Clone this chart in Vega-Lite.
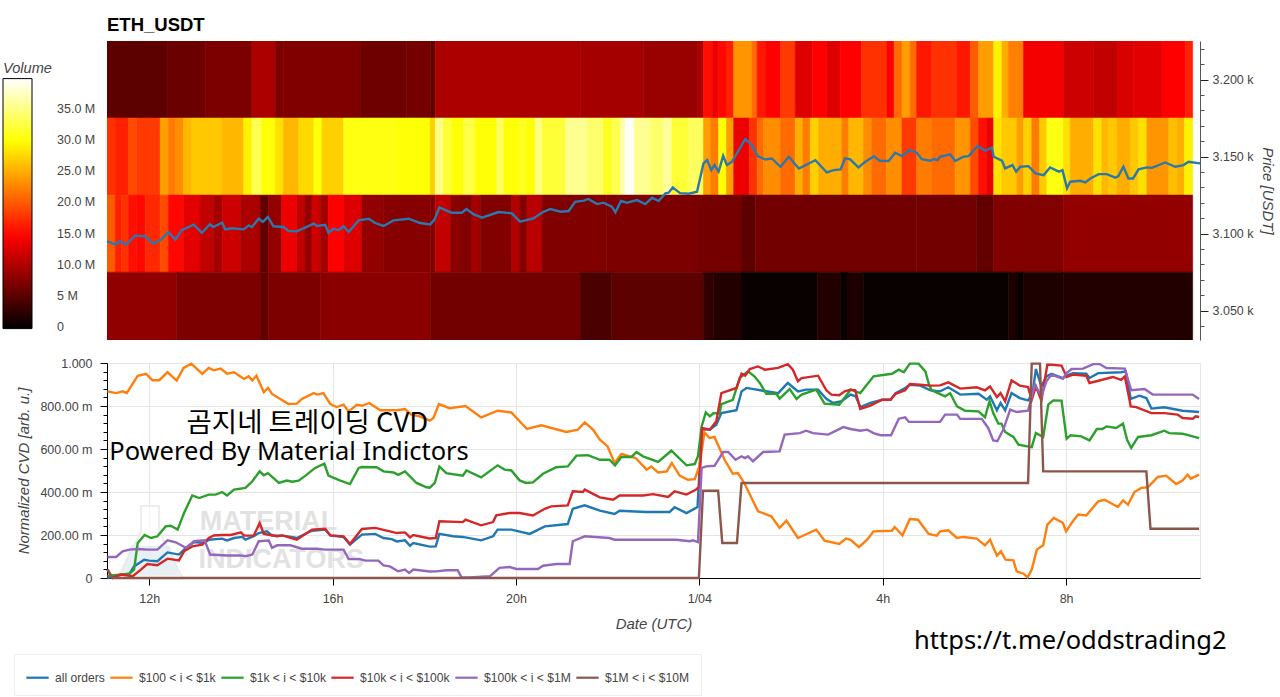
{
"$schema":"https://vega.github.io/schema/vega-lite/v6.json",
"padding":{"left":3,"top":15,"right":4,"bottom":0},
"background":"white",
"spacing":23,
"bounds":"flush",
"config":{"font":"Liberation Sans","view":{"stroke":null},"axis":{"labelFontSize":12.5,"labelColor":"#444444","titleColor":"#444444","titleFontSize":15,"titleFontStyle":"italic","titleFontWeight":"normal","tickColor":"#222222","domainColor":"#222222"}},
"datasets":{
"heat":[
{"t0":11.08,"t1":12.39,"p0":3175,"p1":3225,"vol":5.2},{"t0":12.39,"t1":13.22,"p0":3175,"p1":3225,"vol":6},{"t0":13.22,"t1":14.24,"p0":3175,"p1":3225,"vol":7},{"t0":14.24,"t1":14.75,"p0":3175,"p1":3225,"vol":9.7},{"t0":14.75,"t1":14.93,"p0":3175,"p1":3225,"vol":7},{"t0":14.93,"t1":16.6,"p0":3175,"p1":3225,"vol":7.2},{"t0":16.6,"t1":17.62,"p0":3175,"p1":3225,"vol":6.2},{"t0":17.62,"t1":18.13,"p0":3175,"p1":3225,"vol":6.6},{"t0":18.13,"t1":18.24,"p0":3175,"p1":3225,"vol":5.5},{"t0":18.24,"t1":21.4,"p0":3175,"p1":3225,"vol":9.8},{"t0":21.4,"t1":22.78,"p0":3175,"p1":3225,"vol":9.3},{"t0":22.78,"t1":23.95,"p0":3175,"p1":3225,"vol":8.7},{"t0":23.95,"t1":24.09,"p0":3175,"p1":3225,"vol":9.6},{"t0":24.09,"t1":24.28,"p0":3175,"p1":3225,"vol":15.5},{"t0":24.28,"t1":24.42,"p0":3175,"p1":3225,"vol":13.5},{"t0":24.42,"t1":24.6,"p0":3175,"p1":3225,"vol":15},{"t0":24.6,"t1":24.75,"p0":3175,"p1":3225,"vol":16.5},{"t0":24.75,"t1":25.15,"p0":3175,"p1":3225,"vol":23.5},{"t0":25.15,"t1":25.26,"p0":3175,"p1":3225,"vol":21},{"t0":25.26,"t1":25.44,"p0":3175,"p1":3225,"vol":16},{"t0":25.44,"t1":25.77,"p0":3175,"p1":3225,"vol":14.6},{"t0":25.77,"t1":26.09,"p0":3175,"p1":3225,"vol":18},{"t0":26.09,"t1":26.46,"p0":3175,"p1":3225,"vol":12.7},{"t0":26.46,"t1":26.78,"p0":3175,"p1":3225,"vol":14.6},{"t0":26.78,"t1":27.08,"p0":3175,"p1":3225,"vol":12.7},{"t0":27.08,"t1":27.54,"p0":3175,"p1":3225,"vol":14.6},{"t0":27.54,"t1":28.09,"p0":3175,"p1":3225,"vol":17.5},{"t0":28.09,"t1":28.25,"p0":3175,"p1":3225,"vol":14.6},{"t0":28.25,"t1":28.42,"p0":3175,"p1":3225,"vol":21},{"t0":28.42,"t1":28.6,"p0":3175,"p1":3225,"vol":24},{"t0":28.6,"t1":28.74,"p0":3175,"p1":3225,"vol":21},{"t0":28.74,"t1":29.07,"p0":3175,"p1":3225,"vol":16},{"t0":29.07,"t1":29.62,"p0":3175,"p1":3225,"vol":17.5},{"t0":29.62,"t1":29.91,"p0":3175,"p1":3225,"vol":16},{"t0":29.91,"t1":30.09,"p0":3175,"p1":3225,"vol":20},{"t0":30.09,"t1":30.42,"p0":3175,"p1":3225,"vol":24},{"t0":30.42,"t1":30.6,"p0":3175,"p1":3225,"vol":29},{"t0":30.6,"t1":30.74,"p0":3175,"p1":3225,"vol":25},{"t0":30.74,"t1":31.07,"p0":3175,"p1":3225,"vol":22.2},{"t0":31.07,"t1":31.94,"p0":3175,"p1":3225,"vol":14},{"t0":31.94,"t1":32.6,"p0":3175,"p1":3225,"vol":11.7},{"t0":32.6,"t1":33.11,"p0":3175,"p1":3225,"vol":11},{"t0":33.11,"t1":33.47,"p0":3175,"p1":3225,"vol":12.4},{"t0":33.47,"t1":34.09,"p0":3175,"p1":3225,"vol":13},{"t0":34.09,"t1":34.6,"p0":3175,"p1":3225,"vol":14.6},{"t0":34.6,"t1":34.76,"p0":3175,"p1":3225,"vol":16.5},
{"t0":11.08,"t1":11.26,"p0":3125,"p1":3175,"vol":17.5},{"t0":11.26,"t1":11.55,"p0":3125,"p1":3175,"vol":16.5},{"t0":11.55,"t1":11.73,"p0":3125,"p1":3175,"vol":19},{"t0":11.73,"t1":12.24,"p0":3125,"p1":3175,"vol":18},{"t0":12.24,"t1":12.42,"p0":3125,"p1":3175,"vol":24},{"t0":12.42,"t1":12.57,"p0":3125,"p1":3175,"vol":22},{"t0":12.57,"t1":12.75,"p0":3125,"p1":3175,"vol":23},{"t0":12.75,"t1":12.93,"p0":3125,"p1":3175,"vol":25.5},{"t0":12.93,"t1":13.59,"p0":3125,"p1":3175,"vol":26.5},{"t0":13.59,"t1":14.06,"p0":3125,"p1":3175,"vol":25.5},{"t0":14.06,"t1":14.24,"p0":3125,"p1":3175,"vol":29},{"t0":14.24,"t1":14.46,"p0":3125,"p1":3175,"vol":33},{"t0":14.46,"t1":14.75,"p0":3125,"p1":3175,"vol":30},{"t0":14.75,"t1":14.93,"p0":3125,"p1":3175,"vol":28},{"t0":14.93,"t1":15.26,"p0":3125,"p1":3175,"vol":25.5},{"t0":15.26,"t1":15.59,"p0":3125,"p1":3175,"vol":27.5},{"t0":15.59,"t1":15.77,"p0":3125,"p1":3175,"vol":30},{"t0":15.77,"t1":16.24,"p0":3125,"p1":3175,"vol":27},{"t0":16.24,"t1":17.4,"p0":3125,"p1":3175,"vol":30.5},{"t0":17.4,"t1":18.13,"p0":3125,"p1":3175,"vol":30},{"t0":18.13,"t1":18.24,"p0":3125,"p1":3175,"vol":27},{"t0":18.24,"t1":18.42,"p0":3125,"p1":3175,"vol":35},{"t0":18.42,"t1":18.6,"p0":3125,"p1":3175,"vol":32},{"t0":18.6,"t1":18.86,"p0":3125,"p1":3175,"vol":30},{"t0":18.86,"t1":19.11,"p0":3125,"p1":3175,"vol":32.5},{"t0":19.11,"t1":19.58,"p0":3125,"p1":3175,"vol":30},{"t0":19.58,"t1":19.74,"p0":3125,"p1":3175,"vol":33.5},{"t0":19.74,"t1":20.06,"p0":3125,"p1":3175,"vol":30},{"t0":20.06,"t1":20.24,"p0":3125,"p1":3175,"vol":31},{"t0":20.24,"t1":20.42,"p0":3125,"p1":3175,"vol":30},{"t0":20.42,"t1":20.57,"p0":3125,"p1":3175,"vol":35},{"t0":20.57,"t1":21.08,"p0":3125,"p1":3175,"vol":32},{"t0":21.08,"t1":21.55,"p0":3125,"p1":3175,"vol":35.5},{"t0":21.55,"t1":21.91,"p0":3125,"p1":3175,"vol":34},{"t0":21.91,"t1":22.09,"p0":3125,"p1":3175,"vol":31},{"t0":22.09,"t1":22.28,"p0":3125,"p1":3175,"vol":33},{"t0":22.28,"t1":22.38,"p0":3125,"p1":3175,"vol":36.5},{"t0":22.38,"t1":22.58,"p0":3125,"p1":3175,"vol":39.5},{"t0":22.58,"t1":22.93,"p0":3125,"p1":3175,"vol":35.5},{"t0":22.93,"t1":23.22,"p0":3125,"p1":3175,"vol":34},{"t0":23.22,"t1":23.4,"p0":3125,"p1":3175,"vol":36},{"t0":23.4,"t1":23.77,"p0":3125,"p1":3175,"vol":32},{"t0":23.77,"t1":24.09,"p0":3125,"p1":3175,"vol":33.5},{"t0":24.09,"t1":24.25,"p0":3125,"p1":3175,"vol":24},{"t0":24.25,"t1":24.42,"p0":3125,"p1":3175,"vol":22},{"t0":24.42,"t1":24.59,"p0":3125,"p1":3175,"vol":30},{"t0":24.59,"t1":24.75,"p0":3125,"p1":3175,"vol":24},{"t0":24.75,"t1":25.09,"p0":3125,"p1":3175,"vol":13.5},{"t0":25.09,"t1":25.26,"p0":3125,"p1":3175,"vol":17.5},{"t0":25.26,"t1":25.4,"p0":3125,"p1":3175,"vol":21},{"t0":25.4,"t1":25.77,"p0":3125,"p1":3175,"vol":23},{"t0":25.77,"t1":26.09,"p0":3125,"p1":3175,"vol":21},{"t0":26.09,"t1":26.26,"p0":3125,"p1":3175,"vol":25},{"t0":26.26,"t1":26.42,"p0":3125,"p1":3175,"vol":22},{"t0":26.42,"t1":26.6,"p0":3125,"p1":3175,"vol":27},{"t0":26.6,"t1":27.11,"p0":3125,"p1":3175,"vol":25},{"t0":27.11,"t1":27.26,"p0":3125,"p1":3175,"vol":22},{"t0":27.26,"t1":27.58,"p0":3125,"p1":3175,"vol":25.5},{"t0":27.58,"t1":27.76,"p0":3125,"p1":3175,"vol":23},{"t0":27.76,"t1":28.08,"p0":3125,"p1":3175,"vol":21},{"t0":28.08,"t1":28.42,"p0":3125,"p1":3175,"vol":23},{"t0":28.42,"t1":28.74,"p0":3125,"p1":3175,"vol":18},{"t0":28.74,"t1":29.07,"p0":3125,"p1":3175,"vol":22},{"t0":29.07,"t1":29.58,"p0":3125,"p1":3175,"vol":21},{"t0":29.58,"t1":29.91,"p0":3125,"p1":3175,"vol":23.5},{"t0":29.91,"t1":30.09,"p0":3125,"p1":3175,"vol":19},{"t0":30.09,"t1":30.26,"p0":3125,"p1":3175,"vol":15.5},{"t0":30.26,"t1":30.42,"p0":3125,"p1":3175,"vol":13.5},{"t0":30.42,"t1":30.6,"p0":3125,"p1":3175,"vol":28},{"t0":30.6,"t1":30.93,"p0":3125,"p1":3175,"vol":26.5},{"t0":30.93,"t1":31.07,"p0":3125,"p1":3175,"vol":24},{"t0":31.07,"t1":31.25,"p0":3125,"p1":3175,"vol":27},{"t0":31.25,"t1":31.42,"p0":3125,"p1":3175,"vol":22},{"t0":31.42,"t1":31.58,"p0":3125,"p1":3175,"vol":26.5},{"t0":31.58,"t1":31.94,"p0":3125,"p1":3175,"vol":30.5},{"t0":31.94,"t1":32.09,"p0":3125,"p1":3175,"vol":28},{"t0":32.09,"t1":32.6,"p0":3125,"p1":3175,"vol":25},{"t0":32.6,"t1":32.78,"p0":3125,"p1":3175,"vol":28},{"t0":32.78,"t1":32.93,"p0":3125,"p1":3175,"vol":25.5},{"t0":32.93,"t1":33.11,"p0":3125,"p1":3175,"vol":26.5},{"t0":33.11,"t1":33.4,"p0":3125,"p1":3175,"vol":25},{"t0":33.4,"t1":33.58,"p0":3125,"p1":3175,"vol":26.5},{"t0":33.58,"t1":33.76,"p0":3125,"p1":3175,"vol":28},{"t0":33.76,"t1":34.24,"p0":3125,"p1":3175,"vol":23.5},{"t0":34.24,"t1":34.42,"p0":3125,"p1":3175,"vol":26},{"t0":34.42,"t1":34.58,"p0":3125,"p1":3175,"vol":25},{"t0":34.58,"t1":34.76,"p0":3125,"p1":3175,"vol":29},
{"t0":11.08,"t1":11.26,"p0":3075,"p1":3125,"vol":20},{"t0":11.26,"t1":11.4,"p0":3075,"p1":3125,"vol":16.5},{"t0":11.4,"t1":11.55,"p0":3075,"p1":3125,"vol":17.5},{"t0":11.55,"t1":11.73,"p0":3075,"p1":3125,"vol":15.5},{"t0":11.73,"t1":11.91,"p0":3075,"p1":3125,"vol":15},{"t0":11.91,"t1":12.24,"p0":3075,"p1":3125,"vol":17},{"t0":12.24,"t1":12.42,"p0":3075,"p1":3125,"vol":19},{"t0":12.42,"t1":12.75,"p0":3075,"p1":3125,"vol":15},{"t0":12.75,"t1":13.11,"p0":3075,"p1":3125,"vol":13},{"t0":13.11,"t1":13.4,"p0":3075,"p1":3125,"vol":11},{"t0":13.4,"t1":13.59,"p0":3075,"p1":3125,"vol":9.3},{"t0":13.59,"t1":13.99,"p0":3075,"p1":3125,"vol":11.7},{"t0":13.99,"t1":14.42,"p0":3075,"p1":3125,"vol":9.7},{"t0":14.42,"t1":14.6,"p0":3075,"p1":3125,"vol":5.5},{"t0":14.6,"t1":14.89,"p0":3075,"p1":3125,"vol":8.3},{"t0":14.89,"t1":15.22,"p0":3075,"p1":3125,"vol":13.5},{"t0":15.22,"t1":15.4,"p0":3075,"p1":3125,"vol":11},{"t0":15.4,"t1":15.55,"p0":3075,"p1":3125,"vol":8.3},{"t0":15.55,"t1":15.73,"p0":3075,"p1":3125,"vol":11.7},{"t0":15.73,"t1":15.91,"p0":3075,"p1":3125,"vol":9.3},{"t0":15.91,"t1":16.24,"p0":3075,"p1":3125,"vol":14.6},{"t0":16.24,"t1":16.64,"p0":3075,"p1":3125,"vol":12.7},{"t0":16.64,"t1":17.11,"p0":3075,"p1":3125,"vol":8.3},{"t0":17.11,"t1":18.13,"p0":3075,"p1":3125,"vol":7.6},{"t0":18.13,"t1":18.24,"p0":3075,"p1":3125,"vol":7.3},{"t0":18.24,"t1":18.57,"p0":3075,"p1":3125,"vol":11},{"t0":18.57,"t1":18.78,"p0":3075,"p1":3125,"vol":8},{"t0":18.78,"t1":19.04,"p0":3075,"p1":3125,"vol":7.3},{"t0":19.04,"t1":19.22,"p0":3075,"p1":3125,"vol":9.3},{"t0":19.22,"t1":19.91,"p0":3075,"p1":3125,"vol":7.3},{"t0":19.91,"t1":20.09,"p0":3075,"p1":3125,"vol":10},{"t0":20.09,"t1":20.24,"p0":3075,"p1":3125,"vol":7.3},{"t0":20.24,"t1":20.57,"p0":3075,"p1":3125,"vol":10.5},{"t0":20.57,"t1":21.98,"p0":3075,"p1":3125,"vol":7.2},{"t0":21.98,"t1":23.95,"p0":3075,"p1":3125,"vol":7},{"t0":23.95,"t1":24.93,"p0":3075,"p1":3125,"vol":6.6},{"t0":24.93,"t1":25.22,"p0":3075,"p1":3125,"vol":5.2},{"t0":25.22,"t1":28.74,"p0":3075,"p1":3125,"vol":6.5},{"t0":28.74,"t1":30.05,"p0":3075,"p1":3125,"vol":6.4},{"t0":30.05,"t1":30.42,"p0":3075,"p1":3125,"vol":5.5},{"t0":30.42,"t1":31.94,"p0":3075,"p1":3125,"vol":7.3},{"t0":31.94,"t1":34.76,"p0":3075,"p1":3125,"vol":8.3},
{"t0":11.08,"t1":12.6,"p0":3025,"p1":3075,"vol":8.2},{"t0":12.6,"t1":14.42,"p0":3025,"p1":3075,"vol":7},{"t0":14.42,"t1":14.6,"p0":3025,"p1":3075,"vol":5.5},{"t0":14.6,"t1":15.73,"p0":3025,"p1":3075,"vol":7},{"t0":15.73,"t1":18.13,"p0":3025,"p1":3075,"vol":7.8},{"t0":18.13,"t1":21.4,"p0":3025,"p1":3075,"vol":6.4},{"t0":21.4,"t1":22.09,"p0":3025,"p1":3075,"vol":4.1},{"t0":22.09,"t1":24.09,"p0":3025,"p1":3075,"vol":5.2},{"t0":24.09,"t1":24.31,"p0":3025,"p1":3075,"vol":2.7},{"t0":24.31,"t1":24.93,"p0":3025,"p1":3075,"vol":1.8},{"t0":24.93,"t1":26.57,"p0":3025,"p1":3075,"vol":0.3},{"t0":26.57,"t1":27.08,"p0":3025,"p1":3075,"vol":1.8},{"t0":27.08,"t1":27.22,"p0":3025,"p1":3075,"vol":0.3},{"t0":27.22,"t1":27.58,"p0":3025,"p1":3075,"vol":1.4},{"t0":27.58,"t1":30.74,"p0":3025,"p1":3075,"vol":0.3},{"t0":30.74,"t1":30.93,"p0":3025,"p1":3075,"vol":1.4},{"t0":30.93,"t1":31.07,"p0":3025,"p1":3075,"vol":0.3},{"t0":31.07,"t1":31.94,"p0":3025,"p1":3075,"vol":1.5},{"t0":31.94,"t1":34.76,"p0":3025,"p1":3075,"vol":1.8}
],
"price":[
{"hour":11.08,"price":3095.2},{"hour":11.26,"price":3092.9},{"hour":11.35,"price":3095.2},{"hour":11.5,"price":3092.9},{"hour":11.69,"price":3098.7},{"hour":11.91,"price":3098.3},{"hour":12.09,"price":3093.5},{"hour":12.24,"price":3095.7},{"hour":12.42,"price":3101},{"hour":12.57,"price":3096.1},{"hour":12.71,"price":3102.2},{"hour":12.97,"price":3105.8},{"hour":13.15,"price":3100.6},{"hour":13.32,"price":3106},{"hour":13.4,"price":3104.3},{"hour":13.59,"price":3107.1},{"hour":13.66,"price":3102.8},{"hour":13.8,"price":3103.5},{"hour":14.06,"price":3102.8},{"hour":14.17,"price":3105.4},{"hour":14.24,"price":3104.3},{"hour":14.39,"price":3109.7},{"hour":14.48,"price":3107.6},{"hour":14.59,"price":3110.8},{"hour":14.71,"price":3104.8},{"hour":14.93,"price":3104.3},{"hour":15.04,"price":3101.7},{"hour":15.22,"price":3101.5},{"hour":15.59,"price":3106.5},{"hour":15.66,"price":3105},{"hour":15.84,"price":3105.8},{"hour":15.91,"price":3100.6},{"hour":16.02,"price":3103.2},{"hour":16.13,"price":3102.2},{"hour":16.24,"price":3104.8},{"hour":16.35,"price":3101.1},{"hour":16.57,"price":3108.6},{"hour":16.79,"price":3109.7},{"hour":16.93,"price":3106.9},{"hour":17.11,"price":3105},{"hour":17.33,"price":3108.6},{"hour":17.66,"price":3109.7},{"hour":17.91,"price":3106.9},{"hour":18.13,"price":3106},{"hour":18.22,"price":3108.9},{"hour":18.33,"price":3117},{"hour":18.46,"price":3115.3},{"hour":18.6,"price":3113.6},{"hour":18.82,"price":3113.6},{"hour":18.92,"price":3116},{"hour":19.08,"price":3112.5},{"hour":19.26,"price":3110.4},{"hour":19.62,"price":3114},{"hour":19.91,"price":3113.2},{"hour":20.09,"price":3107.8},{"hour":20.38,"price":3109.9},{"hour":20.6,"price":3114.2},{"hour":20.75,"price":3116},{"hour":20.97,"price":3114.2},{"hour":21.15,"price":3114.7},{"hour":21.29,"price":3120.7},{"hour":21.48,"price":3121.4},{"hour":21.58,"price":3122.5},{"hour":21.77,"price":3119.2},{"hour":21.91,"price":3120.1},{"hour":22.09,"price":3117.5},{"hour":22.17,"price":3113.8},{"hour":22.29,"price":3121.2},{"hour":22.42,"price":3120.1},{"hour":22.64,"price":3121.8},{"hour":22.82,"price":3119.2},{"hour":22.97,"price":3123.3},{"hour":23.11,"price":3121.2},{"hour":23.26,"price":3126.1},{"hour":23.33,"price":3126.6},{"hour":23.42,"price":3130},{"hour":23.58,"price":3126.3},{"hour":23.77,"price":3125.9},{"hour":23.95,"price":3127.2},{"hour":24.09,"price":3145.6},{"hour":24.17,"price":3147.7},{"hour":24.26,"price":3141.2},{"hour":24.33,"price":3144.5},{"hour":24.42,"price":3140.2},{"hour":24.52,"price":3150.5},{"hour":24.6,"price":3144.5},{"hour":24.71,"price":3146.6},{"hour":25,"price":3161.3},{"hour":25.15,"price":3157.4},{"hour":25.27,"price":3150.3},{"hour":25.44,"price":3148.1},{"hour":25.58,"price":3148.8},{"hour":25.77,"price":3143.4},{"hour":25.95,"price":3149.9},{"hour":26.17,"price":3142.3},{"hour":26.53,"price":3147.7},{"hour":26.78,"price":3139.7},{"hour":26.93,"price":3141.2},{"hour":27.08,"price":3141.7},{"hour":27.18,"price":3148.8},{"hour":27.29,"price":3148.2},{"hour":27.47,"price":3143},{"hour":27.62,"price":3146.6},{"hour":27.81,"price":3150.3},{"hour":27.93,"price":3147.3},{"hour":28.13,"price":3147.1},{"hour":28.27,"price":3152.5},{"hour":28.42,"price":3150.3},{"hour":28.58,"price":3154.2},{"hour":28.74,"price":3152.5},{"hour":28.85,"price":3148.4},{"hour":29.04,"price":3147.3},{"hour":29.11,"price":3148.4},{"hour":29.2,"price":3147.7},{"hour":29.25,"price":3149.9},{"hour":29.47,"price":3151.4},{"hour":29.58,"price":3147.1},{"hour":29.76,"price":3149.9},{"hour":29.87,"price":3150.3},{"hour":30.07,"price":3156.8},{"hour":30.24,"price":3153.8},{"hour":30.38,"price":3155.9},{"hour":30.42,"price":3149.9},{"hour":30.6,"price":3147.3},{"hour":30.67,"price":3142.3},{"hour":30.83,"price":3144.5},{"hour":30.91,"price":3140.2},{"hour":31,"price":3143.4},{"hour":31.18,"price":3143.8},{"hour":31.33,"price":3139.1},{"hour":31.51,"price":3138},{"hour":31.65,"price":3143},{"hour":31.84,"price":3140.2},{"hour":31.92,"price":3141.2},{"hour":32.02,"price":3129.4},{"hour":32.09,"price":3133.7},{"hour":32.31,"price":3134.3},{"hour":32.42,"price":3133.2},{"hour":32.53,"price":3135.8},{"hour":32.71,"price":3138.6},{"hour":32.89,"price":3138.6},{"hour":33.07,"price":3136.3},{"hour":33.14,"price":3137.4},{"hour":33.25,"price":3143.4},{"hour":33.36,"price":3135.8},{"hour":33.46,"price":3135.8},{"hour":33.58,"price":3141.7},{"hour":33.76,"price":3143},{"hour":33.87,"price":3142.7},{"hour":34.16,"price":3146.2},{"hour":34.38,"price":3143.4},{"hour":34.56,"price":3144.5},{"hour":34.67,"price":3146.6},{"hour":34.92,"price":3145.6}
],
"allOrders":[
{"hour":11.09,"v":0},{"hour":11.28,"v":0.011},{"hour":11.57,"v":0.02},{"hour":11.67,"v":0.054},{"hour":11.89,"v":0.085},{"hour":12,"v":0.081},{"hour":12.18,"v":0.078},{"hour":12.4,"v":0.119},{"hour":12.65,"v":0.109},{"hour":12.8,"v":0.14},{"hour":12.98,"v":0.167},{"hour":13.2,"v":0.163},{"hour":13.3,"v":0.178},{"hour":13.59,"v":0.183},{"hour":13.7,"v":0.175},{"hour":13.85,"v":0.186},{"hour":14.03,"v":0.191},{"hour":14.1,"v":0.178},{"hour":14.28,"v":0.194},{"hour":14.39,"v":0.209},{"hour":14.57,"v":0.217},{"hour":14.68,"v":0.197},{"hour":14.93,"v":0.197},{"hour":15.22,"v":0.186},{"hour":15.55,"v":0.22},{"hour":15.84,"v":0.225},{"hour":15.95,"v":0.198},{"hour":16.24,"v":0.191},{"hour":16.38,"v":0.155},{"hour":16.64,"v":0.202},{"hour":16.93,"v":0.205},{"hour":17.11,"v":0.186},{"hour":17.29,"v":0.181},{"hour":17.4,"v":0.17},{"hour":17.58,"v":0.175},{"hour":17.69,"v":0.15},{"hour":17.76,"v":0.163},{"hour":18.12,"v":0.146},{"hour":18.25,"v":0.147},{"hour":18.33,"v":0.205},{"hour":18.63,"v":0.194},{"hour":18.84,"v":0.191},{"hour":19.24,"v":0.175},{"hour":19.5,"v":0.194},{"hour":19.6,"v":0.225},{"hour":19.9,"v":0.225},{"hour":20.3,"v":0.205},{"hour":20.63,"v":0.24},{"hour":21.13,"v":0.251},{"hour":21.24,"v":0.322},{"hour":21.5,"v":0.338},{"hour":21.83,"v":0.313},{"hour":22.15,"v":0.298},{"hour":22.26,"v":0.313},{"hour":22.84,"v":0.307},{"hour":23.35,"v":0.307},{"hour":23.46,"v":0.329},{"hour":23.72,"v":0.302},{"hour":23.96,"v":0.33},{"hour":24.05,"v":0.69},{"hour":24.23,"v":0.69},{"hour":24.37,"v":0.713},{"hour":24.48,"v":0.767},{"hour":24.81,"v":0.78},{"hour":24.92,"v":0.868},{"hour":25.03,"v":0.884},{"hour":25.39,"v":0.871},{"hour":25.72,"v":0.86},{"hour":25.93,"v":0.907},{"hour":26.15,"v":0.868},{"hour":26.33,"v":0.876},{"hour":26.59,"v":0.876},{"hour":26.77,"v":0.833},{"hour":26.92,"v":0.814},{"hour":27.1,"v":0.822},{"hour":27.3,"v":0.853},{"hour":27.41,"v":0.845},{"hour":27.51,"v":0.795},{"hour":27.73,"v":0.814},{"hour":27.99,"v":0.829},{"hour":28.17,"v":0.829},{"hour":28.28,"v":0.86},{"hour":28.49,"v":0.884},{"hour":28.59,"v":0.899},{"hour":28.82,"v":0.895},{"hour":29.04,"v":0.873},{"hour":29.25,"v":0.868},{"hour":29.43,"v":0.887},{"hour":29.69,"v":0.853},{"hour":30.09,"v":0.857},{"hour":30.27,"v":0.829},{"hour":30.34,"v":0.845},{"hour":30.49,"v":0.78},{"hour":30.57,"v":0.814},{"hour":30.67,"v":0.78},{"hour":30.81,"v":0.86},{"hour":30.99,"v":0.837},{"hour":31.17,"v":0.826},{"hour":31.27,"v":0.86},{"hour":31.34,"v":0.972},{"hour":31.46,"v":0.891},{"hour":31.57,"v":0.938},{"hour":31.68,"v":0.95},{"hour":31.93,"v":0.93},{"hour":32.01,"v":0.941},{"hour":32.15,"v":0.953},{"hour":32.44,"v":0.95},{"hour":32.51,"v":0.93},{"hour":32.7,"v":0.953},{"hour":33.2,"v":0.957},{"hour":33.3,"v":0.961},{"hour":33.41,"v":0.833},{"hour":33.6,"v":0.848},{"hour":33.75,"v":0.837},{"hour":33.86,"v":0.788},{"hour":34.14,"v":0.794},{"hour":34.54,"v":0.778},{"hour":34.9,"v":0.772}
],
"tier1":[
{"hour":11.09,"v":0.868},{"hour":11.28,"v":0.86},{"hour":11.42,"v":0.868},{"hour":11.51,"v":0.86},{"hour":11.75,"v":0.94},{"hour":11.93,"v":0.95},{"hour":12.07,"v":0.92},{"hour":12.22,"v":0.92},{"hour":12.4,"v":0.957},{"hour":12.6,"v":0.918},{"hour":12.75,"v":0.977},{"hour":12.92,"v":0.997},{"hour":13.16,"v":0.949},{"hour":13.3,"v":0.977},{"hour":13.41,"v":0.966},{"hour":13.56,"v":0.974},{"hour":13.7,"v":0.95},{"hour":13.85,"v":0.957},{"hour":14.07,"v":0.926},{"hour":14.17,"v":0.938},{"hour":14.25,"v":0.919},{"hour":14.34,"v":0.941},{"hour":14.5,"v":0.864},{"hour":14.59,"v":0.884},{"hour":14.68,"v":0.856},{"hour":14.86,"v":0.833},{"hour":15.04,"v":0.809},{"hour":15.22,"v":0.811},{"hour":15.33,"v":0.833},{"hour":15.59,"v":0.86},{"hour":15.66,"v":0.853},{"hour":15.8,"v":0.86},{"hour":15.95,"v":0.809},{"hour":16.09,"v":0.795},{"hour":16.24,"v":0.806},{"hour":16.35,"v":0.775},{"hour":16.53,"v":0.806},{"hour":16.64,"v":0.801},{"hour":16.8,"v":0.814},{"hour":17.04,"v":0.78},{"hour":17.4,"v":0.78},{"hour":17.58,"v":0.786},{"hour":17.72,"v":0.76},{"hour":17.9,"v":0.752},{"hour":18.12,"v":0.732},{"hour":18.2,"v":0.744},{"hour":18.32,"v":0.809},{"hour":18.55,"v":0.79},{"hour":18.9,"v":0.8},{"hour":19.24,"v":0.747},{"hour":19.6,"v":0.778},{"hour":19.9,"v":0.77},{"hour":20.24,"v":0.693},{"hour":20.55,"v":0.71},{"hour":21.1,"v":0.679},{"hour":21.35,"v":0.69},{"hour":21.5,"v":0.724},{"hour":21.68,"v":0.69},{"hour":21.83,"v":0.643},{"hour":22,"v":0.612},{"hour":22.15,"v":0.535},{"hour":22.3,"v":0.577},{"hour":22.61,"v":0.558},{"hour":22.85,"v":0.504},{"hour":22.95,"v":0.519},{"hour":23.1,"v":0.491},{"hour":23.29,"v":0.496},{"hour":23.4,"v":0.535},{"hour":23.57,"v":0.476},{"hour":23.75,"v":0.457},{"hour":23.9,"v":0.46},{"hour":24,"v":0.519},{"hour":24.11,"v":0.678},{"hour":24.22,"v":0.651},{"hour":24.33,"v":0.656},{"hour":24.55,"v":0.55},{"hour":24.73,"v":0.485},{"hour":24.84,"v":0.488},{"hour":24.98,"v":0.442},{"hour":25.28,"v":0.31},{"hour":25.57,"v":0.287},{"hour":25.75,"v":0.233},{"hour":25.9,"v":0.267},{"hour":26.15,"v":0.186},{"hour":26.55,"v":0.225},{"hour":26.73,"v":0.174},{"hour":27.05,"v":0.158},{"hour":27.2,"v":0.183},{"hour":27.3,"v":0.178},{"hour":27.48,"v":0.144},{"hour":27.66,"v":0.178},{"hour":27.8,"v":0.217},{"hour":28.2,"v":0.22},{"hour":28.26,"v":0.237},{"hour":28.43,"v":0.198},{"hour":28.59,"v":0.274},{"hour":28.77,"v":0.271},{"hour":29,"v":0.205},{"hour":29.18,"v":0.197},{"hour":29.25,"v":0.217},{"hour":29.43,"v":0.222},{"hour":29.62,"v":0.186},{"hour":29.76,"v":0.191},{"hour":30.05,"v":0.183},{"hour":30.23,"v":0.152},{"hour":30.34,"v":0.178},{"hour":30.49,"v":0.104},{"hour":30.58,"v":0.124},{"hour":30.68,"v":0.085},{"hour":30.85,"v":0.082},{"hour":30.92,"v":0.031},{"hour":31.07,"v":0.02},{"hour":31.16,"v":0.003},{"hour":31.25,"v":0.039},{"hour":31.36,"v":0.132},{"hour":31.5,"v":0.152},{"hour":31.59,"v":0.248},{"hour":31.73,"v":0.279},{"hour":31.93,"v":0.256},{"hour":32,"v":0.217},{"hour":32.12,"v":0.256},{"hour":32.26,"v":0.295},{"hour":32.44,"v":0.291},{"hour":32.7,"v":0.357},{"hour":32.84,"v":0.364},{"hour":33.13,"v":0.33},{"hour":33.24,"v":0.361},{"hour":33.35,"v":0.341},{"hour":33.49,"v":0.4},{"hour":33.64,"v":0.419},{"hour":33.78,"v":0.422},{"hour":34,"v":0.47},{"hour":34.18,"v":0.476},{"hour":34.4,"v":0.437},{"hour":34.54,"v":0.453},{"hour":34.65,"v":0.481},{"hour":34.72,"v":0.462},{"hour":34.9,"v":0.481}
],
"tier2":[
{"hour":11.09,"v":0.01},{"hour":11.57,"v":0.02},{"hour":11.67,"v":0.039},{"hour":11.75,"v":0.163},{"hour":11.9,"v":0.2},{"hour":12.04,"v":0.186},{"hour":12.18,"v":0.194},{"hour":12.36,"v":0.24},{"hour":12.47,"v":0.243},{"hour":12.62,"v":0.225},{"hour":12.76,"v":0.302},{"hour":12.94,"v":0.384},{"hour":13.09,"v":0.372},{"hour":13.3,"v":0.388},{"hour":13.45,"v":0.388},{"hour":13.59,"v":0.4},{"hour":13.7,"v":0.384},{"hour":13.85,"v":0.411},{"hour":14.1,"v":0.419},{"hour":14.25,"v":0.45},{"hour":14.41,"v":0.496},{"hour":14.5,"v":0.478},{"hour":14.59,"v":0.488},{"hour":14.83,"v":0.442},{"hour":15,"v":0.453},{"hour":15.12,"v":0.448},{"hour":15.26,"v":0.453},{"hour":15.41,"v":0.476},{"hour":15.62,"v":0.512},{"hour":15.82,"v":0.532},{"hour":15.91,"v":0.476},{"hour":16.17,"v":0.453},{"hour":16.38,"v":0.437},{"hour":16.57,"v":0.512},{"hour":16.64,"v":0.516},{"hour":16.96,"v":0.515},{"hour":17.11,"v":0.496},{"hour":17.33,"v":0.491},{"hour":17.43,"v":0.48},{"hour":17.58,"v":0.496},{"hour":17.83,"v":0.442},{"hour":18.05,"v":0.422},{"hour":18.12,"v":0.42},{"hour":18.23,"v":0.442},{"hour":18.33,"v":0.519},{"hour":18.48,"v":0.488},{"hour":18.84,"v":0.476},{"hour":18.92,"v":0.5},{"hour":19.24,"v":0.468},{"hour":19.6,"v":0.524},{"hour":19.75,"v":0.504},{"hour":19.9,"v":0.5},{"hour":20.08,"v":0.454},{"hour":20.22,"v":0.442},{"hour":20.37,"v":0.445},{"hour":20.59,"v":0.485},{"hour":20.88,"v":0.515},{"hour":21.13,"v":0.519},{"hour":21.32,"v":0.569},{"hour":21.57,"v":0.571},{"hour":21.83,"v":0.55},{"hour":22.04,"v":0.55},{"hour":22.16,"v":0.524},{"hour":22.3,"v":0.563},{"hour":22.52,"v":0.563},{"hour":22.63,"v":0.586},{"hour":22.77,"v":0.566},{"hour":23.1,"v":0.54},{"hour":23.39,"v":0.592},{"hour":23.72,"v":0.524},{"hour":23.9,"v":0.53},{"hour":23.97,"v":0.566},{"hour":24.05,"v":0.705},{"hour":24.14,"v":0.77},{"hour":24.23,"v":0.752},{"hour":24.31,"v":0.767},{"hour":24.44,"v":0.764},{"hour":24.48,"v":0.809},{"hour":24.73,"v":0.829},{"hour":24.88,"v":0.93},{"hour":25.06,"v":0.961},{"hour":25.2,"v":0.938},{"hour":25.32,"v":0.907},{"hour":25.46,"v":0.857},{"hour":25.68,"v":0.857},{"hour":25.75,"v":0.834},{"hour":25.97,"v":0.879},{"hour":26.12,"v":0.833},{"hour":26.23,"v":0.853},{"hour":26.55,"v":0.876},{"hour":26.73,"v":0.811},{"hour":27.05,"v":0.806},{"hour":27.3,"v":0.876},{"hour":27.51,"v":0.86},{"hour":27.8,"v":0.938},{"hour":28.2,"v":0.95},{"hour":28.35,"v":0.969},{"hour":28.46,"v":0.957},{"hour":28.59,"v":0.997},{"hour":28.78,"v":0.997},{"hour":28.93,"v":0.961},{"hour":29.01,"v":0.899},{"hour":29.07,"v":0.873},{"hour":29.36,"v":0.845},{"hour":29.47,"v":0.86},{"hour":29.62,"v":0.798},{"hour":29.8,"v":0.778},{"hour":30.09,"v":0.775},{"hour":30.23,"v":0.747},{"hour":30.33,"v":0.822},{"hour":30.41,"v":0.767},{"hour":30.52,"v":0.718},{"hour":30.59,"v":0.718},{"hour":30.67,"v":0.679},{"hour":30.85,"v":0.656},{"hour":30.96,"v":0.62},{"hour":31.25,"v":0.609},{"hour":31.34,"v":0.674},{"hour":31.5,"v":0.656},{"hour":31.61,"v":0.806},{"hour":31.72,"v":0.826},{"hour":31.9,"v":0.825},{"hour":32.01,"v":0.648},{"hour":32.1,"v":0.664},{"hour":32.33,"v":0.659},{"hour":32.51,"v":0.64},{"hour":32.67,"v":0.693},{"hour":32.79,"v":0.693},{"hour":32.88,"v":0.705},{"hour":33.09,"v":0.698},{"hour":33.24,"v":0.718},{"hour":33.33,"v":0.643},{"hour":33.42,"v":0.605},{"hour":33.57,"v":0.656},{"hour":33.86,"v":0.664},{"hour":34.14,"v":0.685},{"hour":34.25,"v":0.674},{"hour":34.54,"v":0.671},{"hour":34.62,"v":0.667},{"hour":34.9,"v":0.651}
],
"tier3":[
{"hour":11.09,"v":0.039},{"hour":11.2,"v":0},{"hour":11.38,"v":0.016},{"hour":11.64,"v":0.008},{"hour":11.82,"v":0.039},{"hour":11.96,"v":0.065},{"hour":12.18,"v":0.059},{"hour":12.4,"v":0.09},{"hour":12.65,"v":0.082},{"hour":12.76,"v":0.124},{"hour":12.94,"v":0.147},{"hour":13.16,"v":0.155},{"hour":13.3,"v":0.186},{"hour":13.41,"v":0.198},{"hour":13.59,"v":0.2},{"hour":13.78,"v":0.2},{"hour":14,"v":0.212},{"hour":14.07,"v":0.197},{"hour":14.28,"v":0.197},{"hour":14.41,"v":0.256},{"hour":14.5,"v":0.205},{"hour":14.64,"v":0.2},{"hour":14.79,"v":0.194},{"hour":14.9,"v":0.198},{"hour":15.22,"v":0.178},{"hour":15.55,"v":0.225},{"hour":15.84,"v":0.229},{"hour":15.95,"v":0.198},{"hour":16.24,"v":0.194},{"hour":16.38,"v":0.158},{"hour":16.64,"v":0.228},{"hour":16.93,"v":0.233},{"hour":17.25,"v":0.217},{"hour":17.4,"v":0.209},{"hour":17.58,"v":0.212},{"hour":17.69,"v":0.189},{"hour":17.76,"v":0.2},{"hour":18.12,"v":0.184},{"hour":18.25,"v":0.186},{"hour":18.33,"v":0.264},{"hour":18.84,"v":0.26},{"hour":18.9,"v":0.271},{"hour":19.24,"v":0.245},{"hour":19.5,"v":0.26},{"hour":19.57,"v":0.291},{"hour":19.86,"v":0.302},{"hour":20.08,"v":0.302},{"hour":20.37,"v":0.291},{"hour":20.63,"v":0.322},{"hour":20.77,"v":0.333},{"hour":21.13,"v":0.338},{"hour":21.24,"v":0.403},{"hour":21.46,"v":0.4},{"hour":21.5,"v":0.411},{"hour":21.83,"v":0.375},{"hour":22.12,"v":0.364},{"hour":22.26,"v":0.384},{"hour":22.77,"v":0.384},{"hour":22.99,"v":0.39},{"hour":23.32,"v":0.377},{"hour":23.46,"v":0.403},{"hour":23.72,"v":0.388},{"hour":23.93,"v":0.411},{"hour":24,"v":0.426},{"hour":24.06,"v":0.698},{"hour":24.23,"v":0.69},{"hour":24.37,"v":0.729},{"hour":24.48,"v":0.86},{"hour":24.81,"v":0.884},{"hour":24.92,"v":0.95},{"hour":25,"v":0.941},{"hour":25.1,"v":0.972},{"hour":25.28,"v":0.984},{"hour":25.43,"v":0.969},{"hour":25.72,"v":0.977},{"hour":25.93,"v":0.995},{"hour":26.04,"v":0.969},{"hour":26.15,"v":0.915},{"hour":26.23,"v":0.93},{"hour":26.59,"v":0.941},{"hour":26.77,"v":0.873},{"hour":26.88,"v":0.853},{"hour":27.05,"v":0.85},{"hour":27.17,"v":0.868},{"hour":27.3,"v":0.876},{"hour":27.4,"v":0.873},{"hour":27.51,"v":0.786},{"hour":27.73,"v":0.802},{"hour":27.99,"v":0.829},{"hour":28.17,"v":0.829},{"hour":28.28,"v":0.857},{"hour":28.49,"v":0.873},{"hour":28.59,"v":0.902},{"hour":28.82,"v":0.899},{"hour":29.04,"v":0.895},{"hour":29.25,"v":0.896},{"hour":29.43,"v":0.91},{"hour":29.69,"v":0.881},{"hour":30.05,"v":0.887},{"hour":30.23,"v":0.873},{"hour":30.34,"v":0.891},{"hour":30.49,"v":0.842},{"hour":30.57,"v":0.86},{"hour":30.67,"v":0.822},{"hour":30.81,"v":0.919},{"hour":30.99,"v":0.895},{"hour":31.17,"v":0.888},{"hour":31.25,"v":0.829},{"hour":31.34,"v":0.891},{"hour":31.46,"v":0.826},{"hour":31.59,"v":0.992},{"hour":31.68,"v":0.992},{"hour":31.9,"v":0.988},{"hour":32.01,"v":0.935},{"hour":32.15,"v":0.946},{"hour":32.44,"v":0.941},{"hour":32.51,"v":0.907},{"hour":33.02,"v":0.935},{"hour":33.2,"v":0.922},{"hour":33.28,"v":0.938},{"hour":33.41,"v":0.798},{"hour":33.53,"v":0.795},{"hour":33.86,"v":0.767},{"hour":34.14,"v":0.767},{"hour":34.43,"v":0.76},{"hour":34.54,"v":0.744},{"hour":34.76,"v":0.741},{"hour":34.83,"v":0.752},{"hour":34.9,"v":0.749}
],
"tier4":[
{"hour":11.09,"v":0.098},{"hour":11.28,"v":0.098},{"hour":11.42,"v":0.124},{"hour":11.57,"v":0.132},{"hour":11.75,"v":0.135},{"hour":11.96,"v":0.132},{"hour":12.18,"v":0.132},{"hour":12.4,"v":0.175},{"hour":12.58,"v":0.166},{"hour":12.8,"v":0.14},{"hour":12.98,"v":0.171},{"hour":13.21,"v":0.175},{"hour":13.33,"v":0.109},{"hour":13.7,"v":0.105},{"hour":14,"v":0.105},{"hour":14.1,"v":0.101},{"hour":14.25,"v":0.109},{"hour":14.39,"v":0.171},{"hour":14.61,"v":0.174},{"hour":14.68,"v":0.14},{"hour":14.79,"v":0.152},{"hour":15.08,"v":0.152},{"hour":15.33,"v":0.136},{"hour":15.66,"v":0.136},{"hour":15.84,"v":0.132},{"hour":16.24,"v":0.132},{"hour":16.35,"v":0.088},{"hour":16.6,"v":0.088},{"hour":16.71,"v":0.081},{"hour":17,"v":0.081},{"hour":17.11,"v":0.059},{"hour":17.25,"v":0.054},{"hour":17.43,"v":0.031},{"hour":17.58,"v":0.039},{"hour":17.67,"v":0.023},{"hour":17.76,"v":0.039},{"hour":18.12,"v":0.03},{"hour":18.26,"v":0.031},{"hour":18.48,"v":0.036},{"hour":18.73,"v":0.036},{"hour":18.81,"v":0.003},{"hour":18.99,"v":0.003},{"hour":19.43,"v":0.008},{"hour":19.64,"v":0.047},{"hour":19.86,"v":0.051},{"hour":20.01,"v":0.042},{"hour":20.48,"v":0.042},{"hour":20.59,"v":0.057},{"hour":20.88,"v":0.065},{"hour":21.17,"v":0.065},{"hour":21.24,"v":0.171},{"hour":21.5,"v":0.194},{"hour":22.04,"v":0.186},{"hour":22.15,"v":0.178},{"hour":23.5,"v":0.178},{"hour":23.79,"v":0.171},{"hour":23.86,"v":0.175},{"hour":23.97,"v":0.167},{"hour":24.05,"v":0.512},{"hour":24.15,"v":0.519},{"hour":24.33,"v":0.522},{"hour":24.52,"v":0.586},{"hour":24.63,"v":0.586},{"hour":24.79,"v":0.55},{"hour":24.92,"v":0.566},{"hour":25,"v":0.558},{"hour":25.06,"v":0.566},{"hour":25.17,"v":0.543},{"hour":25.39,"v":0.586},{"hour":25.75,"v":0.589},{"hour":25.86,"v":0.667},{"hour":26.19,"v":0.674},{"hour":26.33,"v":0.685},{"hour":26.48,"v":0.674},{"hour":26.81,"v":0.667},{"hour":27.14,"v":0.702},{"hour":27.3,"v":0.693},{"hour":27.51,"v":0.685},{"hour":27.66,"v":0.69},{"hour":27.8,"v":0.674},{"hour":27.95,"v":0.664},{"hour":28.18,"v":0.664},{"hour":28.35,"v":0.741},{"hour":28.49,"v":0.747},{"hour":28.57,"v":0.726},{"hour":29.25,"v":0.726},{"hour":29.36,"v":0.76},{"hour":29.62,"v":0.76},{"hour":29.69,"v":0.74},{"hour":30.16,"v":0.74},{"hour":30.3,"v":0.698},{"hour":30.41,"v":0.64},{"hour":30.5,"v":0.636},{"hour":30.63,"v":0.69},{"hour":30.78,"v":0.783},{"hour":30.92,"v":0.772},{"hour":31.17,"v":0.778},{"hour":31.32,"v":0.899},{"hour":31.46,"v":0.845},{"hour":31.57,"v":0.915},{"hour":31.68,"v":0.946},{"hour":31.93,"v":0.927},{"hour":32.01,"v":0.953},{"hour":32.12,"v":0.972},{"hour":32.37,"v":0.974},{"hour":32.59,"v":0.995},{"hour":32.73,"v":0.995},{"hour":32.88,"v":0.977},{"hour":33.28,"v":0.974},{"hour":33.42,"v":0.873},{"hour":33.71,"v":0.879},{"hour":33.89,"v":0.853},{"hour":34.76,"v":0.853},{"hour":34.9,"v":0.833}
],
"tier5":[
{"hour":11.09,"v":0.04},{"hour":11.2,"v":0},{"hour":23.99,"v":0},{"hour":24.08,"v":0.406},{"hour":24.41,"v":0.406},{"hour":24.5,"v":0.163},{"hour":24.82,"v":0.163},{"hour":24.92,"v":0.442},{"hour":31.17,"v":0.442},{"hour":31.25,"v":0.997},{"hour":31.43,"v":0.997},{"hour":31.5,"v":0.496},{"hour":33.75,"v":0.496},{"hour":33.84,"v":0.229},{"hour":34.9,"v":0.229}
]
},
"vconcat":[
{
"title":{"text":"ETH_USDT","anchor":"start","frame":"group","fontSize":18.5,"fontWeight":"bold","color":"#000000","offset":7},
"width":1093,
"height":299,
"layer":[
{"data":{"name":"heat"},"mark":{"type":"rect","clip":true,"strokeWidth":0.6},
"encoding":{
"x":{"field":"t0","type":"quantitative","scale":{"domain":[11.08,34.92],"nice":false,"zero":false},"axis":null},
"x2":{"field":"t1"},
"y":{"field":"p0","type":"quantitative","scale":{"domain":[3031,3225],"nice":false,"zero":false},"axis":{"orient":"right","values":[3050,3100,3150,3200],"grid":false,"tickSize":8,"labelPadding":4,"labelExpr":"format(datum.value/1000,'.3f')+' k'","title":"Price [USDT]","titlePadding":6,"domainColor":"#555555"}},
"y2":{"field":"p1"},
"stroke":{"field":"vol","type":"quantitative","scale":{"domain":[-0.2,14.6,29.8,39.8],"range":["#000000","#ff0000","#ffff00","#ffffff"],"interpolate":"rgb"},"legend":null},
"color":{"field":"vol","type":"quantitative","scale":{"domain":[-0.2,14.6,29.8,39.8],"range":["#000000","#ff0000","#ffff00","#ffffff"],"interpolate":"rgb"},
"legend":{"orient":"none","legendX":-104,"legendY":20,"title":"Volume","titleFontStyle":"italic","titleFontWeight":"normal","titleFontSize":14.6,"titleColor":"#444444","titlePadding":3,"gradientLength":250,"gradientThickness":29,"gradientStrokeColor":"#000000","gradientStrokeWidth":1,"values":[0,5,10,15,20,25,30,35],"labelExpr":"datum.value==0?'0':datum.value==5?'5 M':format(datum.value,'.1f')+' M'","labelFontSize":12.5,"labelColor":"#444444","labelAlign":"center","labelBaseline":"middle","labelOffset":25}}
}},
{"data":{"name":"price"},"mark":{"type":"line","color":"#2a78ad","strokeWidth":2.4},
"encoding":{
"x":{"field":"hour","type":"quantitative","axis":null},
"y":{"field":"price","type":"quantitative","axis":{"orient":"right","values":[3040,3060,3070,3080,3090,3110,3120,3130,3140,3160,3170,3180,3190,3210,3220],"labels":false,"grid":false,"domain":false,"tickSize":4,"title":null,"tickColor":"#555555"}}
}}
],
"resolve":{"axis":{"y":"independent"},"scale":{"color":"independent"}}
},
{
"width":1093,
"height":215,
"view":{"stroke":"#e5e5e5"},
"layer":[
{"data":{"values":[{"hour":12.02,"v":0.167}]},"mark":{"type":"point","filled":true,"fill":"#ffffff","stroke":"#e6e6e6","strokeWidth":2,"shape":"M-0.25,-1 L0.25,-1 L0.25,-0.3 L0.9,1 L-0.9,1 L-0.25,-0.3 Z","size":5200},
"encoding":{"x":{"field":"hour","type":"quantitative","scale":{"domain":[11.08,34.92],"nice":false,"zero":false},"axis":{"values":[12,16,20,24,28,32],"labelExpr":"datum.value==24?'1/04':(datum.value%24)+'h'","tickSize":7,"labelPadding":7,"gridColor":"#e5e5e5","title":"Date (UTC)","titlePadding":12,"domainColor":"#000000","tickColor":"#000000"}},
"y":{"field":"v","type":"quantitative","scale":{"domain":[0,1],"nice":false,"zero":false},"axis":{"orient":"left","values":[0,0.2,0.4,0.6,0.8,1],"labelExpr":"datum.value==0?'0':datum.value==1?'1.000':format(datum.value*1000,'.2f')+' m'","tickSize":7,"labelPadding":8,"gridColor":"#e5e5e5","title":"Normalized CVD [arb. u.]","titlePadding":8,"domainColor":"#000000","tickColor":"#000000"}}}},
{"data":{"values":[{"hour":12.02,"v":0.167}]},"mark":{"type":"point","filled":true,"fill":"#dfe9ee","stroke":null,"shape":"M-0.55,0.1 L0.55,0.1 L0.82,0.93 L-0.82,0.93 Z","size":5200},
"encoding":{"x":{"field":"hour","type":"quantitative"},"y":{"field":"v","type":"quantitative","axis":null}}},
{"data":{"values":[{"hour":14.6,"v":0.26,"label":"MATERIAL"},{"hour":14.88,"v":0.084,"label":"INDICATORS"}]},"mark":{"type":"text","font":"Liberation Sans","fontWeight":"bold","fontSize":27,"color":"#e2e2e2"},
"encoding":{"x":{"field":"hour","type":"quantitative"},"y":{"field":"v","type":"quantitative","axis":null},"text":{"field":"label"}}},
{"data":{"name":"allOrders"},"mark":{"type":"line","strokeWidth":2.4},"encoding":{"x":{"field":"hour","type":"quantitative"},"y":{"field":"v","type":"quantitative","axis":null},
"color":{"datum":"all orders","type":"nominal","scale":{"domain":["all orders","$100 < i < $1k","$1k < i < $10k","$10k < i < $100k","$100k < i < $1M","$1M < i < $10M"],"range":["#1f77b4","#ff7f0e","#2ca02c","#d62728","#9467bd","#8c564b"]},
"legend":{"orient":"none","legendX":-93,"legendY":613,"direction":"horizontal","columns":6,"title":null,"fillColor":"#ffffff","strokeColor":"#eeeeee","padding":11,"labelFontSize":12.1,"labelColor":"#444444","labelOffset":5,"columnPadding":0,"symbolStrokeWidth":2.2,"symbolSize":500,"symbolType":"stroke"}}}},
{"data":{"name":"tier1"},"mark":{"type":"line","strokeWidth":2.4},"encoding":{"x":{"field":"hour","type":"quantitative"},"y":{"field":"v","type":"quantitative","axis":null},"color":{"datum":"$100 < i < $1k","type":"nominal"}}},
{"data":{"name":"tier2"},"mark":{"type":"line","strokeWidth":2.4},"encoding":{"x":{"field":"hour","type":"quantitative"},"y":{"field":"v","type":"quantitative","axis":null},"color":{"datum":"$1k < i < $10k","type":"nominal"}}},
{"data":{"name":"tier3"},"mark":{"type":"line","strokeWidth":2.4},"encoding":{"x":{"field":"hour","type":"quantitative"},"y":{"field":"v","type":"quantitative","axis":null},"color":{"datum":"$10k < i < $100k","type":"nominal"}}},
{"data":{"name":"tier4"},"mark":{"type":"line","strokeWidth":2.4},"encoding":{"x":{"field":"hour","type":"quantitative"},"y":{"field":"v","type":"quantitative","axis":null},"color":{"datum":"$100k < i < $1M","type":"nominal"}}},
{"data":{"name":"tier5"},"mark":{"type":"line","strokeWidth":2.4},"encoding":{"x":{"field":"hour","type":"quantitative"},"y":{"field":"v","type":"quantitative","axis":{"orient":"left","values":[0.04,0.08,0.12,0.16,0.24,0.28,0.32,0.36,0.44,0.48,0.52,0.56,0.64,0.68,0.72,0.76,0.84,0.88,0.92,0.96],"labels":false,"grid":false,"domain":false,"tickSize":4,"title":null,"tickColor":"#000000"}},"color":{"datum":"$1M < i < $10M","type":"nominal"}}},
{"data":{"values":[{"hour":15.45,"v":0.718,"label":"곰지네 트레이딩 CVD"}]},"mark":{"type":"text","font":"Noto Sans CJK KR","fontSize":27.5,"color":"#000000"},"encoding":{"x":{"field":"hour","type":"quantitative"},"y":{"field":"v","type":"quantitative","axis":null},"text":{"field":"label"}}},
{"data":{"values":[{"hour":15.05,"v":0.585,"label":"Powered By Material Indictors"},{"hour":32.09,"v":-0.292,"label":"https://t.me/oddstrading2"}]},"mark":{"type":"text","font":"Noto Sans","fontSize":25.5,"color":"#000000"},"encoding":{"x":{"field":"hour","type":"quantitative"},"y":{"field":"v","type":"quantitative","axis":null},"text":{"field":"label"}}}
],
"resolve":{"axis":{"y":"independent"}}
}
]
}
